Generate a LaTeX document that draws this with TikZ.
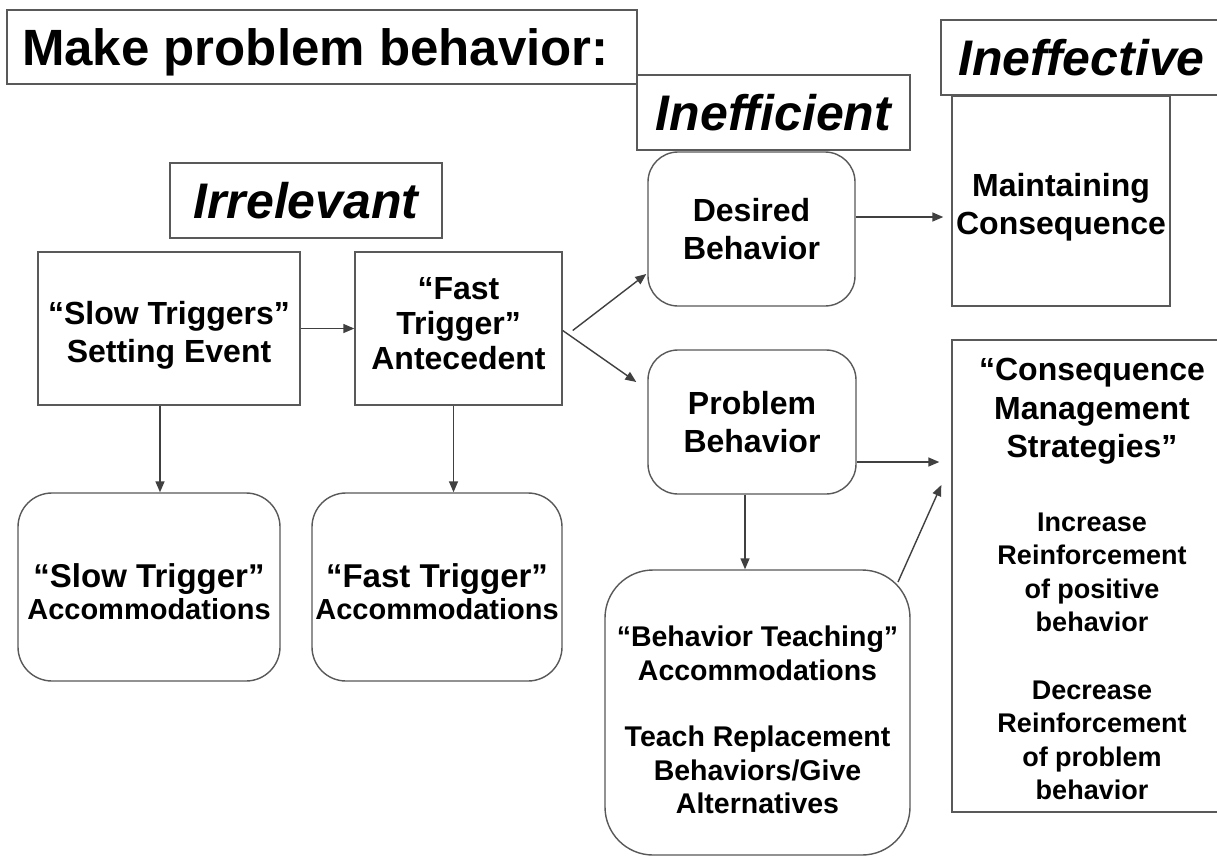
\documentclass[tikz,border=0pt]{standalone}
\usepackage{fontspec}
\setmainfont{Liberation Sans}
\usetikzlibrary{arrows.meta}
\newcommand{\bodyfont}{\fontsize{32}{38}\selectfont}
\newcommand{\headfont}{\fontsize{50}{58}\selectfont}
\newcommand{\natsp}{\spaceskip=0pt\xspaceskip=0pt\relax}
\newcommand{\minorfont}[2]{\fontsize{#1}{#2}\selectfont\natsp}
\tikzset{
  lbl/.style={draw=black!65, line width=1.4pt, fill=white, inner sep=0pt, align=flush center},
  sq/.style={lbl},
  rnd/.style={lbl, rounded corners=32pt},
  head/.style={font=\bfseries\itshape\headfont},
  body/.style={font=\bfseries\bodyfont},
  arr/.style={draw=black!75, line width=1.4pt, -{Triangle[length=11pt,width=9pt]}},
}
\begin{document}
\begin{tikzpicture}[x=1pt,y=-1pt]
\useasboundingbox (0,0) rectangle (1217,857);
\clip (0,0) rectangle (1217,857);
\fill[white] (0,0) rectangle (1217,857);

% heading boxes
\node[sq, minimum width=630, minimum height=74, text width=600, align=flush left, text depth=0pt, font=\bfseries\fontsize{51}{58}\selectfont] (title) at (322,47) {\natsp Make problem behavior:};
\node[sq, head, minimum width=273, minimum height=75] (ineffic) at (773.5,112.5) {Inefficient};
\node[sq, head, minimum width=281, minimum height=75] (ineffec) at (1081.5,57.5) {Ineffective};
\node[sq, head, minimum width=272, minimum height=75] (irrel) at (306,200.5) {Irrelevant};

% main boxes
\node[sq, body, text width=255, minimum width=262, minimum height=153] (slow) at (169,328.5) {\natsp\rule{0pt}{37pt}``Slow Triggers''\\ Setting Event\par};
\node[sq, text width=200, minimum width=207, minimum height=153, font=\bfseries\fontsize{32}{35}\selectfont] (fast) at (458.5,328.5) {\natsp ``Fast\\ Trigger''\\ Antecedent\rule[-10pt]{0pt}{1pt}\par};
\node[rnd, text width=255, minimum width=262, minimum height=188, rounded corners=34pt, font=\bfseries\fontsize{33}{32}\selectfont] (slowacc) at (149,587) {\natsp\rule{0pt}{33pt}``Slow Trigger''\\ \minorfont{29}{32}Accommodations\par};
\node[rnd, text width=248, minimum width=250, minimum height=188, rounded corners=34pt, font=\bfseries\fontsize{33}{32}\selectfont] (fastacc) at (437,587) {\natsp\rule{0pt}{33pt}``Fast Trigger''\\ \minorfont{29}{32}Accommodations\par};
\node[rnd, body, text width=200, minimum width=207, minimum height=154, rounded corners=30pt] (desired) at (751.5,229) {\natsp Desired\\ Behavior\par};
\node[rnd, body, text width=200, minimum width=208, minimum height=144, rounded corners=30pt] (problem) at (752,422) {\natsp Problem\\ Behavior\par};
\node[sq, body, text width=216, minimum width=218, minimum height=210] (maint) at (1061,201) {\natsp\rule{0pt}{35pt}Maintaining\\ Consequence\par};
\node[rnd, text width=300, minimum width=305, minimum height=285, rounded corners=48pt, font=\bfseries\fontsize{28.5}{33.5}\selectfont] (teach) at (757.5,712.5) {\natsp\rule{0pt}{36pt}``Behavior Teaching''\\ Accommodations\\[33pt] Teach Replacement\\ Behaviors/Give\\ Alternatives\par};
\node[sq, text width=270, minimum width=280, minimum height=472, font=\bfseries\fontsize{32}{38.5}\selectfont] (cms) at (1092,576) {\natsp\rule{0pt}{29pt}``Consequence\\ Management\\ Strategies''\\[40pt] \minorfont{27}{33.5}Increase\\ Reinforcement\\ of positive\\ behavior\\[34pt] Decrease\\ Reinforcement\\ of problem\\ behavior\par};

% connectors
\draw[arr] (slow.east) -- (slow.east -| fast.west);
\draw[arr] ([xshift=10pt,yshift=-2pt]fast.east) -- ([xshift=-1pt,yshift=-45pt]desired.west);
\draw[arr] ([yshift=-2pt]fast.east) -- ([xshift=-11pt,yshift=40pt]problem.west);
\draw[arr] ([yshift=12pt]desired.east) -- ([xshift=-8pt,yshift=-16pt]maint.west);
\draw[arr] ([xshift=-9pt]slow.south) -- ([xshift=-9pt]slow.south |- slowacc.north);
\draw[arr] ([xshift=-5pt]fast.south) -- ([xshift=-5pt]fast.south |- fastacc.north);
\draw[arr] ([xshift=-7pt]problem.south) -- ([xshift=-7pt]problem.south |- teach.north);
\draw[arr] ([yshift=-40pt]problem.east) -- ([xshift=-12pt,yshift=-40pt]problem.east -| cms.west);
\draw[arr] ([xshift=140.5pt,yshift=130.5pt]teach.center) -- ([xshift=-10pt,yshift=91pt]cms.west);
\end{tikzpicture}
\end{document}
